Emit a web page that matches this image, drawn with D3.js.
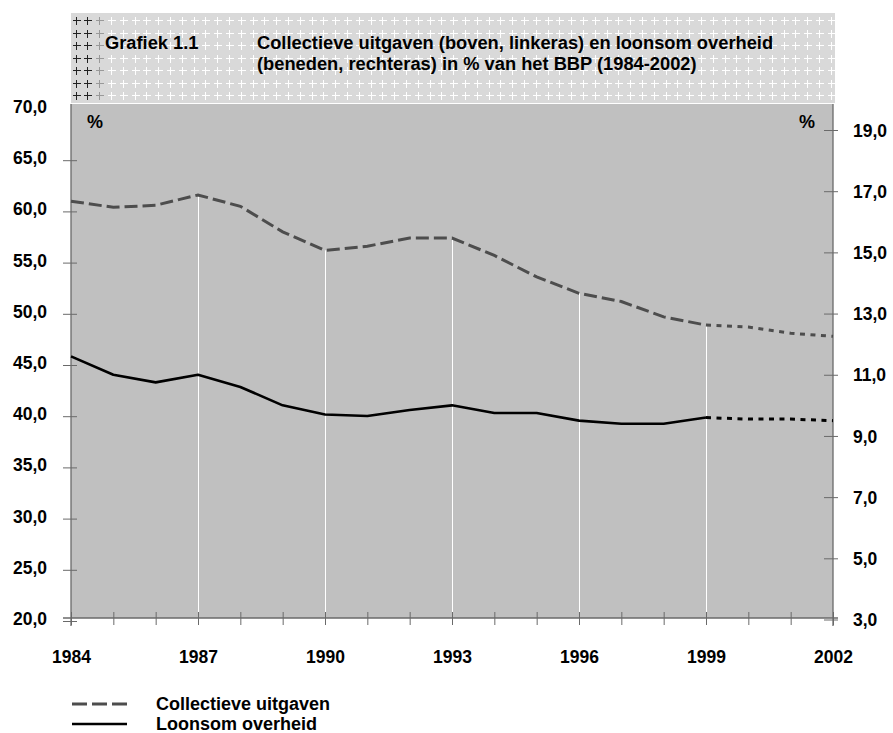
<!DOCTYPE html>
<html>
<head>
<meta charset="utf-8">
<script src="https://cdn.jsdelivr.net/npm/d3@7"></script>
<style>
  html, body { margin: 0; padding: 0; background: #ffffff; }
  svg { display: block; }
  text { font-family: "Liberation Sans", Arial, Helvetica, sans-serif; font-weight: bold; fill: #000; }
</style>
</head>
<body>
<svg id="chart" width="893" height="733"></svg>
<script>
// Jaren en reeksen (% van het BBP)
const years = [1984, 1985, 1986, 1987, 1988, 1989, 1990, 1991, 1992, 1993,
               1994, 1995, 1996, 1997, 1998, 1999, 2000, 2001, 2002];
// Collectieve uitgaven, linkeras
const collectief = [61.0, 60.4, 60.6, 61.6, 60.5, 58.0, 56.2, 56.6, 57.4, 57.4,
                    55.7, 53.6, 52.0, 51.2, 49.7, 48.9, 48.7, 48.1, 47.8];
// Loonsom overheid, rechteras
const loonsom = [11.6, 11.0, 10.75, 11.0, 10.6, 10.0, 9.7, 9.65, 9.85, 10.0,
                 9.75, 9.75, 9.5, 9.4, 9.4, 9.6, 9.55, 9.55, 9.5];
const lastRealised = 1999;           // daarna: raming
const dropYears = [1987, 1990, 1993, 1996, 1999];
const yearLabels = [1984, 1987, 1990, 1993, 1996, 1999, 2002];
const leftTicks = [20, 25, 30, 35, 40, 45, 50, 55, 60, 65, 70];
const rightTicks = [3, 5, 7, 9, 11, 13, 15, 17, 19];
const titleNumber = "Grafiek 1.1";
const titleLines = ["Collectieve uitgaven (boven, linkeras) en loonsom overheid",
                    "(beneden, rechteras) in % van het BBP (1984-2002)"];
const legendItems = ["Collectieve uitgaven", "Loonsom overheid"];

const svg = d3.select("#chart");
const plot = { left: 71, right: 833, top: 104, bottom: 618 };
const fmt = v => d3.format(".1f")(v).replace(".", ",");
const FONT = "'Liberation Sans', Arial, sans-serif";

const x = d3.scaleLinear().domain([1984, 2002]).range([plot.left, plot.right]);
const yL = d3.scaleLinear().domain([20, 70]).range([621, 109]);
const yR = d3.scaleLinear().domain([3, 19]).range([619.5, 130]);

// Titelbalk met kruisjespatroon
const banner = { x: 71, y: 13, w: 764, h: 90 };
svg.append("rect").attr("x", banner.x).attr("y", banner.y)
  .attr("width", banner.w).attr("height", banner.h).attr("fill", "#d9d9d9");
const crossCols = d3.range(75.5, banner.x + banner.w - 2, 11.8);
const crossRows = d3.range(20, banner.y + banner.h - 2, 12.5);
const crosses = svg.append("g").attr("stroke-width", 1).attr("shape-rendering", "crispEdges");
crossRows.forEach(cy => {
  crossCols.forEach((cx, i) => {
    const c = i < 2 ? "#222" : (i === 2 ? "#999" : "#fff");
    const rx = Math.round(cx) + 0.5, ry = Math.round(cy) + 0.5;
    crosses.append("line").attr("x1", rx - 4).attr("x2", rx + 4).attr("y1", ry).attr("y2", ry).attr("stroke", c);
    crosses.append("line").attr("x1", rx).attr("x2", rx).attr("y1", ry - 4).attr("y2", ry + 4).attr("stroke", c);
  });
});
svg.append("text").attr("x", 105).attr("y", 49).attr("font-size", 18.3).text(titleNumber);
titleLines.forEach((t, i) => {
  svg.append("text").attr("x", 257).attr("y", 49 + i * 20.5).attr("font-size", 18.3).text(t);
});

// Plotvlak
svg.append("rect").attr("x", plot.left).attr("y", plot.top)
  .attr("width", plot.right - plot.left).attr("height", plot.bottom - plot.top)
  .attr("fill", "#c0c0c0");

// Witte verticale lijnen vanaf de collectieve uitgaven
svg.append("g").selectAll("line").data(dropYears).join("line")
  .attr("x1", d => Math.round(x(d)) + 0.5).attr("x2", d => Math.round(x(d)) + 0.5)
  .attr("y1", d => yL(collectief[years.indexOf(d)]))
  .attr("y2", plot.bottom)
  .attr("stroke", "#ffffff").attr("stroke-width", 1);

// Assen
const axisColor = "#6a6a6a";
const gL = svg.append("g").attr("transform", `translate(${plot.left},0)`)
  .call(d3.axisLeft(yL).tickValues(leftTicks).tickFormat(fmt).tickSize(8).tickPadding(16));
gL.select(".domain").remove();
gL.selectAll(".tick line").attr("x1", 6).attr("stroke", axisColor)
  .attr("opacity", d => d === 70 ? 0 : 1);
gL.selectAll(".tick text").attr("font-size", 17.5).attr("dy", "0.2em")
  .style("font-family", FONT).style("font-weight", "bold").attr("fill", "#000");

const gR = svg.append("g").attr("transform", `translate(${plot.right},0)`)
  .call(d3.axisRight(yR).tickValues(rightTicks).tickFormat(fmt).tickSize(5).tickPadding(15));
gR.select(".domain").remove();
gR.selectAll(".tick line").attr("x1", -9).attr("stroke", axisColor);
gR.selectAll(".tick text").attr("font-size", 17.5).attr("dy", "0.35em")
  .style("font-family", FONT).style("font-weight", "bold").attr("fill", "#000");

const gX = svg.append("g").attr("transform", `translate(0,${plot.bottom})`)
  .call(d3.axisBottom(x).tickValues(years).tickFormat(d => yearLabels.includes(d) ? d : "")
        .tickSize(7).tickPadding(26));
gX.select(".domain").remove();
gX.selectAll(".tick line").attr("y1", -6).attr("stroke", axisColor);
gX.selectAll(".tick text").attr("font-size", 17.5)
  .style("font-family", FONT).style("font-weight", "bold").attr("fill", "#000");

// Aslijnen
const frame = svg.append("g").attr("stroke", axisColor).attr("stroke-width", 1.3);
frame.append("line").attr("x1", plot.left).attr("x2", plot.left).attr("y1", plot.top).attr("y2", plot.bottom + 8);
frame.append("line").attr("x1", plot.right).attr("x2", plot.right).attr("y1", plot.top).attr("y2", plot.bottom + 8);
frame.append("line").attr("x1", plot.left - 8).attr("x2", plot.right + 5).attr("y1", plot.bottom).attr("y2", plot.bottom);

svg.append("text").attr("x", 95).attr("y", 128).attr("font-size", 18).attr("text-anchor", "middle").text("%");
svg.append("text").attr("x", 807).attr("y", 128).attr("font-size", 18).attr("text-anchor", "middle").text("%");

// Lijnen: gerealiseerd en raming
const split = years.indexOf(lastRealised);
const idxReal = d3.range(0, split + 1);
const idxProj = d3.range(split, years.length);
const lineL = d3.line().x(i => x(years[i])).y(i => yL(collectief[i]));
const lineR = d3.line().x(i => x(years[i])).y(i => yR(loonsom[i]));

svg.append("path").attr("d", lineL(idxReal)).attr("fill", "none")
  .attr("stroke", "#4d4d4d").attr("stroke-width", 3).attr("stroke-dasharray", "13,5");
svg.append("path").attr("d", lineL(idxProj)).attr("fill", "none")
  .attr("stroke", "#4d4d4d").attr("stroke-width", 3).attr("stroke-dasharray", "5,5.5");
svg.append("path").attr("d", lineR(idxReal)).attr("fill", "none")
  .attr("stroke", "#000").attr("stroke-width", 2.6).attr("stroke-linejoin", "round");
svg.append("path").attr("d", lineR(idxProj)).attr("fill", "none")
  .attr("stroke", "#000").attr("stroke-width", 3).attr("stroke-dasharray", "5,5.5");

// Legenda
const lg = svg.append("g");
lg.append("line").attr("x1", 72).attr("x2", 127).attr("y1", 704).attr("y2", 704)
  .attr("stroke", "#4d4d4d").attr("stroke-width", 3).attr("stroke-dasharray", "15,5");
lg.append("line").attr("x1", 72).attr("x2", 127).attr("y1", 724).attr("y2", 724)
  .attr("stroke", "#000").attr("stroke-width", 2.6);
legendItems.forEach((t, i) => {
  lg.append("text").attr("x", 156).attr("y", 709.5 + i * 20).attr("font-size", 18).text(t);
});
</script>
</body>
</html>
